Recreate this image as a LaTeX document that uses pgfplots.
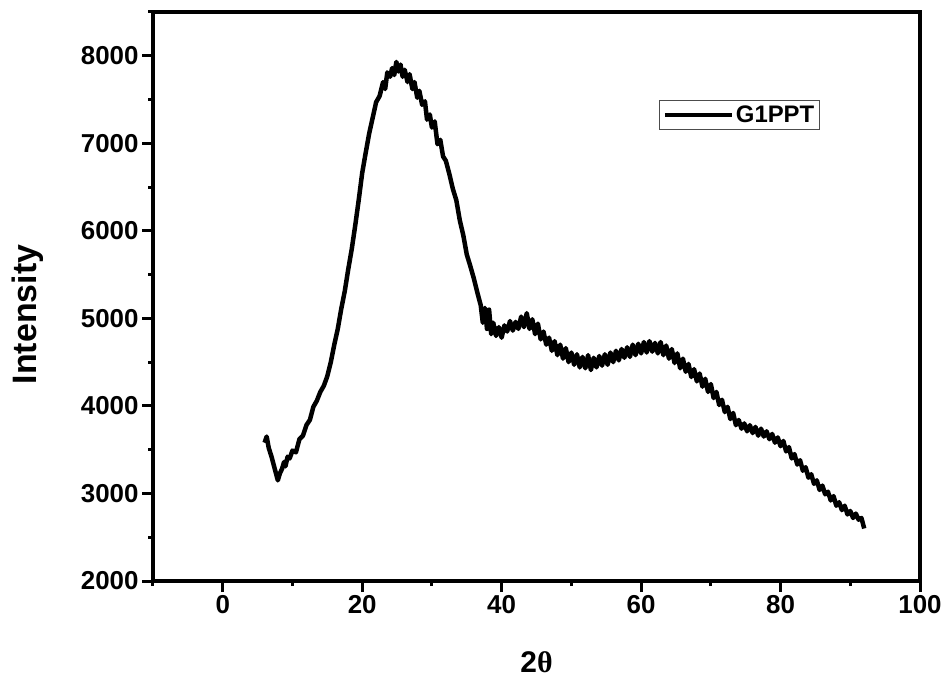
\documentclass[border=0pt]{standalone}
\usepackage{fontspec}
\setmainfont{Liberation Sans}
\newfontfamily\grfont{Liberation Serif}
\usepackage{pgfplots}
\pgfplotsset{compat=1.18}

\pgfplotstableread{
x y
6.0 3580
6.3 3650
6.6 3520
7.0 3420
7.3 3330
7.6 3240
7.9 3150
8.2 3230
8.5 3280
8.8 3360
9.0 3310
9.3 3420
9.6 3400
10.0 3490
10.5 3470
11.0 3620
11.5 3660
12.0 3780
12.5 3840
13.0 3990
13.5 4060
14.0 4160
14.5 4230
15.0 4340
15.5 4500
16.0 4700
16.5 4880
17.0 5110
17.5 5310
18.0 5560
18.5 5790
19.0 6060
19.5 6350
20.0 6660
20.5 6890
21.0 7110
21.5 7290
22.0 7470
22.5 7540
23.0 7700
23.3 7620
23.6 7810
24.0 7760
24.3 7860
24.6 7780
24.9 7930
25.2 7820
25.5 7900
25.8 7760
26.1 7840
26.5 7700
26.8 7790
27.2 7620
27.5 7700
27.9 7520
28.2 7600
28.6 7440
29.0 7480
29.3 7270
29.7 7330
30.0 7180
30.4 7250
30.8 6990
31.2 7040
31.6 6850
32.0 6800
32.5 6650
33.0 6480
33.5 6350
34.0 6120
34.5 5950
35.0 5730
35.5 5600
36.0 5460
36.5 5300
37.0 5150
37.3 4950
37.6 5120
37.9 4880
38.2 5100
38.5 4820
38.8 4950
39.2 4800
39.6 4900
40.0 4780
40.4 4920
40.8 4850
41.2 4970
41.6 4860
42.0 4960
42.4 4880
42.8 5020
43.2 4900
43.6 5060
44.0 4880
44.4 4990
44.8 4820
45.2 4940
45.6 4760
46.0 4850
46.4 4700
46.8 4780
47.2 4630
47.6 4740
48.0 4580
48.4 4700
48.8 4540
49.2 4660
49.6 4500
50.0 4610
50.4 4470
50.8 4590
51.2 4440
51.6 4560
52.0 4430
52.4 4580
52.8 4410
53.2 4550
53.6 4440
54.0 4570
54.4 4460
54.8 4590
55.2 4470
55.6 4610
56.0 4500
56.4 4630
56.8 4520
57.2 4650
57.6 4550
58.0 4670
58.4 4560
58.8 4700
59.2 4580
59.6 4710
60.0 4600
60.4 4730
60.8 4610
61.2 4740
61.6 4620
62.0 4720
62.4 4600
62.8 4730
63.2 4580
63.6 4690
64.0 4540
64.4 4650
64.8 4490
65.2 4600
65.6 4430
66.0 4540
66.4 4390
66.8 4480
67.2 4330
67.6 4420
68.0 4280
68.4 4370
68.8 4220
69.2 4310
69.6 4160
70.0 4250
70.4 4090
70.8 4160
71.2 4010
71.6 4070
72.0 3930
72.4 3990
72.8 3850
73.2 3920
73.6 3780
74.0 3840
74.4 3740
74.8 3800
75.2 3710
75.6 3780
76.0 3690
76.4 3760
76.8 3660
77.2 3740
77.6 3650
78.0 3710
78.4 3620
78.8 3680
79.2 3580
79.6 3640
80.0 3540
80.4 3600
80.8 3480
81.2 3530
81.6 3400
82.0 3450
82.4 3330
82.8 3380
83.2 3260
83.6 3300
84.0 3180
84.4 3220
84.8 3110
85.2 3150
85.6 3040
86.0 3090
86.4 2990
86.8 3020
87.2 2920
87.6 2970
88.0 2860
88.4 2900
88.8 2810
89.2 2860
89.6 2760
90.0 2800
90.4 2720
90.8 2770
91.2 2700
91.6 2720
92.0 2600
}\gpptdata

\begin{document}
\begin{tikzpicture}
\begin{axis}[
  scale only axis, width=767bp, height=569bp,
  xmin=-10, xmax=100, ymin=2000, ymax=8500,
  xtick={0,20,...,100}, minor xtick={-10,10,...,90},
  ytick={2000,3000,...,8000}, minor ytick={2500,3500,...,8500},
  tick align=outside, xtick pos=bottom, ytick pos=left,
  major tick length=11bp, minor tick length=5bp,
  every tick/.style={black, line width=3bp},
  axis line style={line width=3.5bp},
  ticklabel style={font=\bfseries\fontsize{26}{30}\selectfont},
  /pgf/number format/assume math mode=true,
  /pgf/number format/1000 sep={},
  scaled ticks=false,
  xlabel={\textbf{2}{\grfont θ}},
  ylabel={Intensity},
  xlabel style={font=\bfseries\fontsize{30}{36}\selectfont, at={(axis description cs:0.5,0)}, anchor=center, yshift=-81bp},
  ylabel style={font=\bfseries\fontsize{34}{40}\selectfont, at={(axis description cs:0,0.5)}, anchor=center, yshift=125bp, xshift=-18bp},
  legend style={at={(0.87,0.845)}, anchor=north east, draw=black!70, line width=1bp,
    font=\bfseries\fontsize{24}{28}\selectfont, inner sep=3.5bp},
  legend image code/.code={\draw[#1, line width=4bp] (0bp,0bp) -- (67bp,0bp);},
]
\addplot[black, line width=4.5bp, line join=round] table[x=x,y=y] {\gpptdata};
\legend{G1PPT}
\end{axis}
\path (current axis.south west) ++(-153bp,-96bp) rectangle ++(946bp,677bp);
\end{tikzpicture}
\end{document}
